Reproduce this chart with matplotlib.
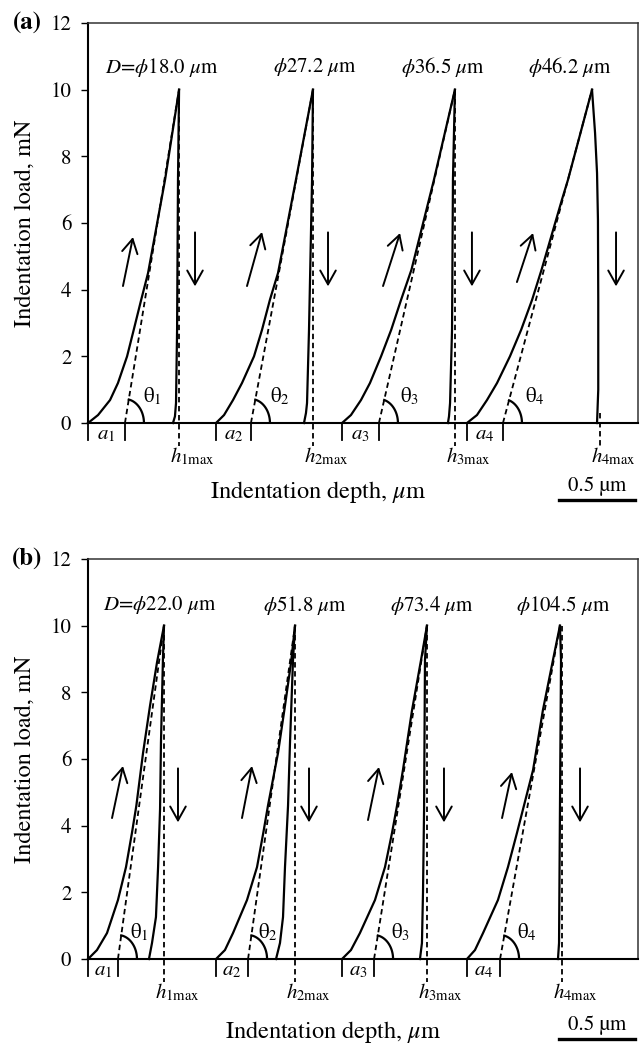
import numpy as np
import matplotlib
matplotlib.use("Agg")
import matplotlib.pyplot as plt

plt.rcParams['font.family'] = 'STIXGeneral'
plt.rcParams['mathtext.fontset'] = 'stix'

# ---- panel (a) : depth in um (curves offset along x), load in mN ----
a_load_h = [
    [0.000, 0.066, 0.145, 0.197, 0.257, 0.301, 0.350, 0.395, 0.507, 0.599],
    [0.842, 0.895, 0.954, 1.013, 1.092, 1.145, 1.197, 1.250, 1.368, 1.480],
    [1.671, 1.730, 1.796, 1.855, 1.928, 1.995, 2.060, 2.128, 2.276, 2.414],
    [2.493, 2.559, 2.625, 2.691, 2.776, 2.850, 2.922, 2.984, 3.118, 3.158, 3.316],
]
a_load_p = [
    [0.0, 0.24, 0.69, 1.2, 2.0, 2.8, 3.7, 4.5, 7.3, 10.0],
    [0.0, 0.24, 0.69, 1.2, 2.0, 2.8, 3.7, 4.5, 7.3, 10.0],
    [0.0, 0.24, 0.69, 1.2, 2.0, 2.8, 3.7, 4.6, 7.3, 10.0],
    [0.0, 0.24, 0.69, 1.2, 2.0, 2.8, 3.7, 4.6, 6.7, 7.3, 10.0],
]
a_unload_h = [
    [0.599, 0.592, 0.586, 0.579, 0.572, 0.559],
    [1.480, 1.474, 1.454, 1.441, 1.434, 1.421],
    [2.414, 2.401, 2.395, 2.382, 2.375, 2.368],
    [3.316, 3.336, 3.349, 3.355, 3.357, 3.357, 3.349],
]
a_unload_p = [
    [10.0, 7.3, 2.8, 0.6, 0.2, 0.0],
    [10.0, 7.3, 2.8, 0.6, 0.3, 0.0],
    [10.0, 7.3, 2.8, 0.6, 0.2, 0.0],
    [10.0, 8.7, 7.5, 6.1, 3.7, 1.0, 0.0],
]
a_start = [0.000, 0.842, 1.671, 2.493]
a_tangent0 = [0.243, 1.072, 1.914, 2.730]
a_peak = [0.599, 1.480, 2.414, 3.316]
a_hmax = [0.599, 1.480, 2.414, 3.368]
a_hmax_top = [10.0, 10.0, 10.0, 0.3]
a_diam = [r'$D$=$\phi$18.0 $\mu$m', r'$\phi$27.2 $\mu$m', r'$\phi$36.5 $\mu$m', r'$\phi$46.2 $\mu$m']
a_diam_x = [0.487, 1.493, 2.336, 3.171]
a_up_from = [(0.230, 4.11), (1.046, 4.11), (1.941, 4.11), (2.822, 4.23)]
a_up_to = [(0.296, 5.58), (1.145, 5.73), (2.053, 5.70), (2.928, 5.70)]
a_down_x = [0.704, 1.579, 2.526, 3.474]
a_theta_x = [0.421, 1.263, 2.118, 2.941]

# ---- panel (b) ----
b_load_h = [
    [0.000, 0.059, 0.125, 0.197, 0.250, 0.289, 0.318, 0.362, 0.408, 0.454, 0.500],
    [0.842, 0.901, 0.954, 1.046, 1.112, 1.153, 1.184, 1.250, 1.296, 1.336, 1.362],
    [1.671, 1.730, 1.789, 1.888, 1.954, 2.000, 2.033, 2.072, 2.132, 2.191, 2.230],
    [2.493, 2.546, 2.599, 2.697, 2.763, 2.822, 2.868, 2.928, 2.993, 3.059, 3.105],
]
b_load_p = [
    [0.0, 0.27, 0.78, 1.77, 2.76, 3.78, 4.6, 6.18, 7.6, 8.9, 10.0],
    [0.0, 0.27, 0.78, 1.77, 2.76, 3.78, 4.6, 6.18, 7.6, 8.9, 10.0],
    [0.0, 0.27, 0.78, 1.77, 2.76, 3.78, 4.6, 5.67, 7.47, 8.97, 10.0],
    [0.0, 0.27, 0.78, 1.77, 2.76, 3.78, 4.6, 5.67, 7.47, 8.97, 10.0],
]
b_unload_h = [
    [0.500, 0.493, 0.480, 0.474, 0.461, 0.447, 0.421, 0.401],
    [1.362, 1.349, 1.329, 1.316, 1.296, 1.283, 1.263, 1.237],
    [2.230, 2.217, 2.211, 2.204, 2.197, 2.184],
    [3.105, 3.112, 3.105, 3.099, 3.092],
]
b_unload_p = [
    [10.0, 9.0, 6.5, 4.5, 2.76, 1.26, 0.48, 0.0],
    [10.0, 9.0, 6.5, 4.6, 2.76, 1.26, 0.48, 0.0],
    [10.0, 8.97, 4.47, 2.0, 0.48, 0.0],
    [10.0, 8.97, 4.47, 0.48, 0.0],
]
b_start = [0.000, 0.842, 1.671, 2.493]
b_tangent0 = [0.197, 1.053, 1.882, 2.711]
b_peak = [0.500, 1.362, 2.230, 3.105]
b_hmax = [0.500, 1.362, 2.230, 3.118]
b_hmax_top = [10.0, 10.0, 10.0, 10.0]
b_diam = [r'$D$=$\phi$22.0 $\mu$m', r'$\phi$51.8 $\mu$m', r'$\phi$73.4 $\mu$m', r'$\phi$104.5 $\mu$m']
b_diam_x = [0.474, 1.428, 2.263, 3.125]
b_up_from = [(0.158, 4.23), (1.013, 4.23), (1.842, 4.17), (2.724, 4.23)]
b_up_to = [(0.230, 5.79), (1.079, 5.79), (1.914, 5.76), (2.789, 5.61)]
b_down_x = [0.592, 1.454, 2.342, 3.237]
b_theta_x = [0.336, 1.184, 2.053, 2.888]

y_ticks = [0, 2, 4, 6, 8, 10, 12]

ARROW = '->,head_length=0.5,head_width=0.28'


def draw_panel(ax, tag, load_h, load_p, unload_h, unload_p, start, tangent0, peak,
               hmax, hmax_top, diam, diam_x, diam_y, up_from, up_to, down_x, theta_x,
               xlabel_x, xlabel_y, bar_y):
    ax.set_xlim(0, 550 / 152)
    ax.set_ylim(0, 12)
    fig = ax.figure
    fig.canvas.draw()
    inv = ax.transData.inverted()

    for i in range(4):
        ax.plot(load_h[i], load_p[i], color='black', lw=1.6, clip_on=False,
                solid_joinstyle='round')
        ax.plot(unload_h[i], unload_p[i], color='black', lw=1.6, clip_on=False,
                solid_joinstyle='round')
        # tangent line
        ax.plot([tangent0[i], peak[i]], [0, 10], color='black', lw=1.3, ls=(0, (3, 2)))
        # h_max vertical
        ax.plot([hmax[i], hmax[i]], [hmax_top[i], -0.7], color='black', lw=1.3,
                ls=(0, (3, 2)), clip_on=False)
        ax.text(hmax[i] - 0.06, -1.0, r'$h_{\mathrm{%dmax}}$' % (i + 1), fontsize=15,
                ha='left', va='center')
        # a marks
        for xv in (start[i], tangent0[i]):
            ax.plot([xv, xv], [0, -0.51], color='black', lw=1.3, clip_on=False)
        ax.text((start[i] + tangent0[i]) / 2, -0.33, r'$a_{%d}$' % (i + 1), fontsize=15,
                ha='center', va='center')
        # theta arc (ellipse in pixels)
        p0 = ax.transData.transform((tangent0[i], 0))
        p1 = ax.transData.transform((peak[i], 10))
        rx, ry = 19.0, 24.0
        t_end = np.arctan2(rx * (p1[1] - p0[1]), ry * (p1[0] - p0[0]))
        t = np.linspace(0, t_end, 40)
        pts = np.column_stack([p0[0] + rx * np.cos(t), p0[1] + ry * np.sin(t)])
        arc = inv.transform(pts)
        ax.plot(arc[:, 0], arc[:, 1], color='black', lw=1.6)
        ax.text(theta_x[i], 0.8, r'θ$_{%d}$' % (i + 1), fontsize=15, ha='center', va='center')
        # diameter labels
        ax.text(diam_x[i], diam_y, diam[i], fontsize=15, ha='center', va='center')
        # arrows
        ax.annotate('', xy=up_to[i], xytext=up_from[i],
                    arrowprops=dict(arrowstyle=ARROW, lw=1.4, color='black',
                                    shrinkA=0, shrinkB=0, mutation_scale=20))
        ax.annotate('', xy=(down_x[i], 4.10), xytext=(down_x[i], 5.72),
                    arrowprops=dict(arrowstyle=ARROW, lw=1.4, color='black',
                                    shrinkA=0, shrinkB=0, mutation_scale=20))

    ax.set_xticks([])
    ax.set_yticks(y_ticks)
    ax.tick_params(axis='y', direction='out', length=5, width=1, labelsize=15, pad=7)
    for s in ('left', 'bottom'):
        ax.spines[s].set_linewidth(1.5)
    for s in ('top', 'right'):
        ax.spines[s].set_linewidth(1.1)
        ax.spines[s].set_color('#333333')
    ax.set_ylabel('Indentation load, mN', fontsize=17.5)
    ax.yaxis.set_label_coords(-0.096, 0.5)
    ax.text(xlabel_x, xlabel_y, r'Indentation depth, $\mu$m', fontsize=17.5,
            ha='center', va='center', transform=ax.transAxes)
    ax.text(-0.111, 1.0, tag, fontsize=18, fontweight='bold', ha='center', va='center',
            transform=ax.transAxes)
    # scale bar
    ax.plot([0.856, 0.9945], [bar_y, bar_y], color='black', lw=2.4,
            transform=ax.transAxes, clip_on=False)
    ax.text(0.925, bar_y + 0.035, '0.5 µm', fontsize=15, ha='center', va='center',
            transform=ax.transAxes)


fig = plt.figure(figsize=(6.41, 10.43), dpi=100)
ax1 = fig.add_axes([0.1373, 0.5944, 0.858, 0.3835])
ax2 = fig.add_axes([0.1373, 0.0805, 0.858, 0.3835])

draw_panel(ax1, '(a)', a_load_h, a_load_p, a_unload_h, a_unload_p, a_start, a_tangent0,
           a_peak, a_hmax, a_hmax_top, a_diam, a_diam_x, 10.68, a_up_from, a_up_to,
           a_down_x, a_theta_x, 0.418, -0.1725, -0.1925)
draw_panel(ax2, '(b)', b_load_h, b_load_p, b_unload_h, b_unload_p, b_start, b_tangent0,
           b_peak, b_hmax, b_hmax_top, b_diam, b_diam_x, 10.62, b_up_from, b_up_to,
           b_down_x, b_theta_x, 0.445, -0.1825, -0.2)

fig.savefig('out.png', dpi=100)
